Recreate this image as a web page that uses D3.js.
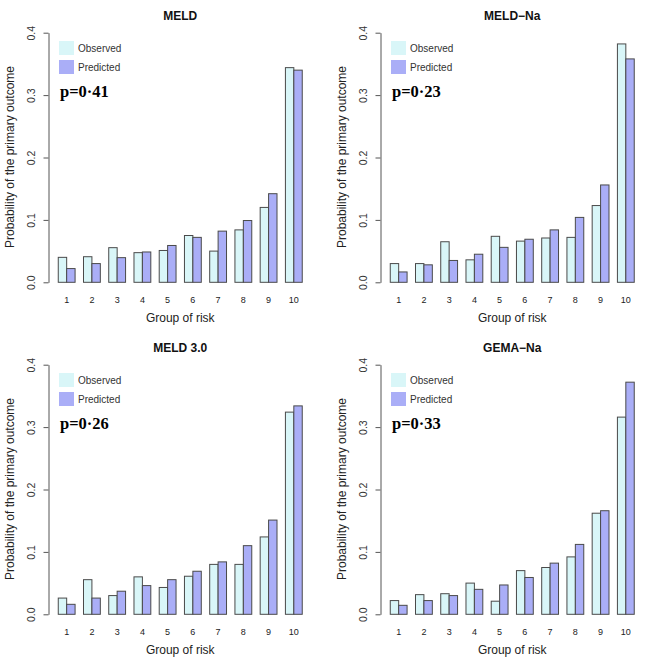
<!DOCTYPE html>
<html>
<head>
<meta charset="utf-8">
<script src="https://cdn.jsdelivr.net/npm/d3@7"></script>
<style>
  html, body { margin: 0; padding: 0; background: #fff; }
  svg { display: block; }
</style>
</head>
<body>
<svg id="chart" width="664" height="664"></svg>
<script>
// ---- data ----
const groups = ["1","2","3","4","5","6","7","8","9","10"];
const panelTitles = ["MELD", "MELD\u2212Na", "MELD 3.0", "GEMA\u2212Na"];
const pValues = ["p=0\u00B741", "p=0\u00B723", "p=0\u00B726", "p=0\u00B733"];
const observedMELD   = [0.040, 0.041, 0.0555, 0.0475, 0.051, 0.075, 0.050, 0.084, 0.120, 0.344];
const predictedMELD  = [0.022, 0.030, 0.0395, 0.0486, 0.059, 0.072, 0.082, 0.099, 0.142, 0.340];
const observedMELDNa  = [0.030, 0.030, 0.065, 0.036, 0.0737, 0.066, 0.071, 0.072, 0.123, 0.382];
const predictedMELDNa = [0.0166, 0.028, 0.035, 0.045, 0.056, 0.069, 0.084, 0.104, 0.156, 0.358];
const observedMELD3  = [0.026, 0.0555, 0.030, 0.060, 0.043, 0.061, 0.080, 0.080, 0.124, 0.324];
const predictedMELD3 = [0.016, 0.026, 0.037, 0.046, 0.0555, 0.069, 0.084, 0.110, 0.151, 0.334];
const observedGEMA  = [0.022, 0.0315, 0.033, 0.050, 0.021, 0.070, 0.075, 0.092, 0.162, 0.316];
const predictedGEMA = [0.0144, 0.022, 0.030, 0.040, 0.047, 0.059, 0.082, 0.112, 0.166, 0.372];
const yTicks = [0, 0.1, 0.2, 0.3, 0.4];
const seriesNames = ["Observed", "Predicted"];

const panels = [
  {title: panelTitles[0], p: pValues[0], obs: observedMELD,   pred: predictedMELD},
  {title: panelTitles[1], p: pValues[1], obs: observedMELDNa, pred: predictedMELDNa},
  {title: panelTitles[2], p: pValues[2], obs: observedMELD3,  pred: predictedMELD3},
  {title: panelTitles[3], p: pValues[3], obs: observedGEMA,   pred: predictedGEMA}
];

// ---- styling / layout ----
const colObs = "#d9f6f8", colPred = "#aaaef7";
const strokeCol = "#4a4a4a";
const sans = "'Liberation Sans', Arial, Helvetica, sans-serif";
const serif = "'Liberation Serif', 'Times New Roman', serif";
const panelW = 332, panelH = 332;

const svg = d3.select("#chart");

// x in bar "units": group i occupies [1+3i, 3+3i], with R-style 4% expansion
const x = d3.scaleLinear().domain([-0.16, 31.16]).range([48.5, 312]);
const y = d3.scaleLinear().domain([0, 0.4]).range([282.3, 32.7]);

panels.forEach((pd, k) => {
  const col = k % 2, row = Math.floor(k / 2);
  const g = svg.append("g").attr("transform", `translate(${col * panelW},${row * panelH})`);

  // bars
  const bars = [];
  groups.forEach((lab, i) => {
    bars.push({u: 1 + 3 * i, v: pd.obs[i], c: colObs});
    bars.push({u: 2 + 3 * i, v: pd.pred[i], c: colPred});
  });
  g.selectAll("rect.bar").data(bars).enter().append("rect")
    .attr("class", "bar")
    .attr("x", d => x(d.u))
    .attr("width", d => x(d.u + 1) - x(d.u))
    .attr("y", d => y(d.v))
    .attr("height", d => y(0) - y(d.v))
    .attr("fill", d => d.c)
    .attr("stroke", strokeCol)
    .attr("stroke-width", 1);

  // y axis
  const ax = g.append("g").attr("transform", `translate(${x(-0.16)},0)`)
    .call(d3.axisLeft(y).tickValues(yTicks).tickFormat(d3.format(".1f")).tickSize(5).tickSizeOuter(0));
  ax.select(".domain").attr("stroke", "#555");
  ax.selectAll(".tick line").attr("stroke", "#555");
  ax.selectAll(".tick text")
    .attr("x", null).attr("dy", null)
    .attr("transform", "translate(-14,0) rotate(-90)")
    .attr("text-anchor", "middle")
    .attr("font-family", sans).attr("font-size", 10.5).attr("fill", "#333");

  // x group labels
  g.selectAll("text.xl").data(groups).enter().append("text")
    .attr("class", "xl")
    .attr("x", (d, i) => x(2 + 3 * i))
    .attr("y", 302.5)
    .attr("text-anchor", "middle")
    .attr("font-family", sans).attr("font-size", 9).attr("fill", "#222")
    .text(d => d);

  // title
  g.append("text").attr("x", (x(-0.16) + x(31.16)) / 2).attr("y", 20)
    .attr("text-anchor", "middle").attr("font-family", sans)
    .attr("font-weight", "bold").attr("font-size", 12).attr("fill", "#111")
    .text(pd.title);

  // axis titles
  g.append("text").attr("x", (x(-0.16) + x(31.16)) / 2).attr("y", 322)
    .attr("text-anchor", "middle").attr("font-family", sans)
    .attr("font-size", 12).attr("fill", "#222").text("Group of risk");
  g.append("text").attr("transform", "translate(14,157) rotate(-90)")
    .attr("text-anchor", "middle").attr("font-family", sans)
    .attr("font-size", 12).attr("fill", "#222").text("Probability of the primary outcome");

  // legend
  const leg = g.append("g");
  seriesNames.forEach((nm, j) => {
    leg.append("rect").attr("x", 59).attr("y", 41 + j * 19).attr("width", 15).attr("height", 14)
      .attr("fill", j === 0 ? colObs : colPred);
    leg.append("text").attr("x", 78).attr("y", 48 + j * 19).attr("dy", "0.35em")
      .attr("font-family", sans).attr("font-size", 10).attr("fill", "#333").text(nm);
  });

  // p value
  g.append("text").attr("x", 60).attr("y", 97)
    .attr("font-family", serif).attr("font-weight", "bold").attr("font-size", 16.5)
    .attr("fill", "#000").text(pd.p);
});
</script>
</body>
</html>
